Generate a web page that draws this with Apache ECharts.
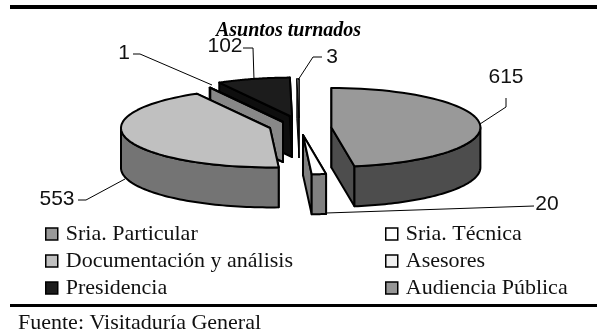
<!DOCTYPE html>
<html>
<head>
<meta charset="utf-8">
<style>html,body{margin:0;padding:0;background:#fff}#chart{width:597px;height:336px}</style>
<script src="https://cdn.jsdelivr.net/npm/echarts@6/dist/echarts.min.js"></script>
</head>
<body>
<div id="chart"></div>
<script>
// datos del grafico, en orden horario desde las 12
const categories = ['Sria. Particular', 'Sria. Técnica', 'Documentación y análisis', 'Asesores', 'Presidencia', 'Audiencia Pública'];
const values = [615, 20, 553, 1, 102, 3];
const legendLeft = ['Sria. Particular', 'Documentación y análisis', 'Presidencia'];
const legendRight = ['Sria. Técnica', 'Asesores', 'Audiencia Pública'];

// estilos
const topColors = ['#999999', '#ffffff', '#c0c0c0', '#f0f0f0', '#1c1c1c', '#969696'];
const wallColors = ['#4d4d4d', '#808080', '#747474', '#888888', '#0e0e0e', '#333333'];
const strokeWidths = [2, 2, 2, 2, 2, 1];
const zOrder = [6, 5, 4, 3, 1, 2];

// geometria del pastel 3D
const RX = 149, RY = 39.4, DEPTH = 40;
const centers = [[331.4, 127.4], [303, 135], [270, 128], [283, 122], [292, 117], [299, 118]];
const leaders = [
    { at: [506, 77], line: [[506, 98], [506, 107], [480, 124]] },
    { at: [547, 204], line: [[534, 206], [326, 213]] },
    { at: [57, 199], line: [[78, 200], [86, 200], [125, 179]] },
    { at: [124, 53], line: [[133, 54], [140, 54], [212, 85]] },
    { at: [225, 46], line: [[243, 48], [253, 48], [254, 80]] },
    { at: [332, 57], line: [[322, 57], [313, 57], [298, 80]] }
];

const total = values.reduce((a, b) => a + b, 0);
const angles = [];
values.reduce((acc, v) => { angles.push([acc / total * 360, (acc + v) / total * 360]); return acc + v; }, 0);

function rim(c, deg, dy) {
    const r = deg * Math.PI / 180;
    return [c[0] + RX * Math.sin(r), c[1] - RY * Math.cos(r) + (dy || 0)];
}

function poly(points, fill, z2, lw) {
    return { type: 'polygon', z2: z2, shape: { points: points }, style: { fill: fill, stroke: '#000', lineWidth: lw, lineJoin: 'round' } };
}

function renderSlice(idx) {
    const c = centers[idx], a0 = angles[idx][0], a1 = angles[idx][1], lw = strokeWidths[idx];
    const children = [];
    // paredes laterales
    [a0, a1].forEach(a => {
        const p = rim(c, a);
        children.push(poly([c, p, [p[0], p[1] + DEPTH], [c[0], c[1] + DEPTH]], wallColors[idx], 1, lw));
    });
    // pared exterior, solo la parte frontal
    const f0 = Math.max(a0, 90), f1 = Math.min(a1, 270);
    if (f1 > f0) {
        const upper = [], lower = [];
        for (let i = 0; i <= 60; i++) {
            const a = f0 + (f1 - f0) * i / 60;
            upper.push(rim(c, a));
            lower.unshift(rim(c, a, DEPTH));
        }
        children.push(poly(upper.concat(lower), wallColors[idx], 2, lw));
    }
    // cara superior
    const face = [c];
    for (let i = 0; i <= 60; i++) face.push(rim(c, a0 + (a1 - a0) * i / 60));
    children.push(poly(face, topColors[idx], 3, lw));
    // etiqueta y linea guia
    const lead = leaders[idx];
    children.push({ type: 'polyline', z2: 4, shape: { points: lead.line }, style: { fill: 'none', stroke: '#000', lineWidth: 1 } });
    children.push({ type: 'text', z2: 4, x: lead.at[0], y: lead.at[1], style: {
        text: String(values[idx]), fill: '#111', font: '21px "Liberation Sans"', align: 'center', verticalAlign: 'middle' } });
    return { type: 'group', children: children };
}

const legendBase = {
    orient: 'vertical', top: 223, itemWidth: 12, itemHeight: 12, itemGap: 5, icon: 'rect', selectedMode: false,
    itemStyle: { borderColor: '#000', borderWidth: 1.5 },
    textStyle: { fontFamily: '"Liberation Serif"', fontSize: 22, color: '#111', padding: [0, 0, 0, 3] }
};

const chart = echarts.init(document.getElementById('chart'));
chart.setOption({
    backgroundColor: '#fff',
    animation: false,
    title: { text: 'Asuntos turnados', left: 216, top: 21, padding: 0,
        textStyle: { fontFamily: '"Liberation Serif"', fontSize: 20, fontWeight: 'bold', fontStyle: 'italic', color: '#000' } },
    legend: [
        Object.assign({}, legendBase, { left: 45, padding: 0, data: legendLeft }),
        Object.assign({}, legendBase, { left: 385, padding: 0, data: legendRight })
    ],
    series: categories.map((name, idx) => ({
        type: 'custom', name: name, coordinateSystem: 'none', silent: true, z: zOrder[idx],
        itemStyle: { color: topColors[idx] },
        data: [values[idx]],
        renderItem: () => renderSlice(idx)
    })),
    graphic: [
        { type: 'rect', shape: { x: 10, y: 5, width: 587, height: 4 }, style: { fill: '#000' } },
        { type: 'rect', shape: { x: 10, y: 304, width: 587, height: 3 }, style: { fill: '#000' } },
        { type: 'text', x: 18, y: 312, style: { text: 'Fuente: Visitaduría General', fill: '#111', font: '22px "Liberation Serif"' } }
    ]
});
</script>
</body>
</html>
